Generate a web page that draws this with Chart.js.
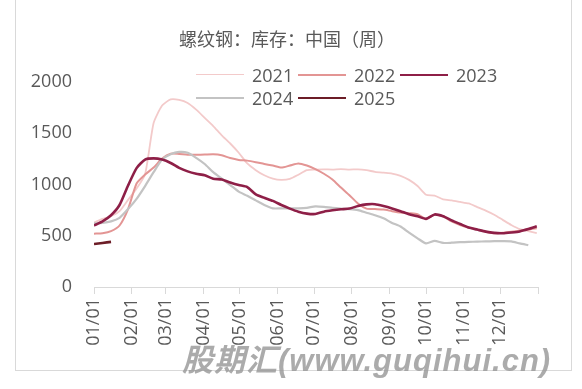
<!DOCTYPE html>
<html>
<head>
<meta charset="utf-8">
<script src="https://cdn.jsdelivr.net/npm/chart.js@4.4.1/dist/chart.umd.min.js"></script>
<style>
  body { margin: 0; background: #fff; }
  #wrap { position: relative; width: 582px; height: 389px; overflow: hidden; }
  #title { position: absolute; left: 179px; top: 27px; font: 18px "Noto Sans CJK SC"; line-height: 22px; color: #595959; white-space: nowrap; }
  #legend { position: absolute; left: 196px; top: 63px; width: 320px; display: flex; flex-wrap: wrap; }
  .item { width: 102px; height: 23px; display: flex; align-items: center; font: 18px "Open Sans"; color: #595959; }
  .swatch { width: 48px; margin-right: 8px; }
  #frame { position: absolute; left: 15px; top: 0; width: 557px; height: 371px; border: 1px solid #d9d9d9; border-top: none; box-sizing: border-box; }
  #mark { position: absolute; left: 182px; top: 335px; font: italic bold 31px "Liberation Sans", "Noto Sans CJK SC"; letter-spacing: 1px; color: rgba(150,150,150,0.8); white-space: nowrap; }
</style>
</head>
<body>
<div id="wrap">
  <div id="frame"></div>
  <canvas id="stockChart" width="582" height="389"></canvas>
  <div id="title">螺纹钢：库存：中国（周）</div>
  <div id="legend"></div>
  <div id="mark">股期汇(www.guqihui.cn)</div>
</div>
<script>
const monthLabels = ['01/01', '02/01', '03/01', '04/01', '05/01', '06/01', '07/01', '08/01', '09/01', '10/01', '11/01', '12/01'];
const monthStartDays = [0, 31, 59, 90, 120, 151, 181, 212, 243, 273, 304, 334];
const yearEndDay = 365;
const years = ['2021', '2022', '2023', '2024', '2025'];

// weekly rebar stock, 10k tonnes, week 1 .. week 53
const stock2021 = [630, 665, 690, 740, 850, 960, 1100, 1600, 1770, 1830, 1825, 1795, 1730, 1650, 1570, 1480, 1400, 1310, 1205, 1140,
  1090, 1057, 1045, 1055, 1095, 1140, 1146, 1148, 1146, 1150, 1146, 1148, 1140, 1124, 1115, 1107, 1085, 1045, 985, 900,
  892, 855, 845, 830, 815, 780, 745, 705, 655, 605, 565, 545, 525];
const stock2022 = [520, 525, 545, 600, 760, 1010, 1097, 1165, 1253, 1301, 1298, 1290, 1290, 1292, 1295, 1285, 1258, 1240, 1233, 1218,
  1200, 1185, 1165, 1185, 1205, 1185, 1150, 1105, 1049, 970, 895, 815, 765, 760, 755, 740, 727, 720, 710, 665,
  705, 690, 640, 605, 580, 560, 540, 525, 530, 540, 550, 560, 573];
const stock2023 = [600, 640, 700, 800, 990, 1160, 1243, 1255, 1243, 1210, 1162, 1128, 1105, 1090, 1057, 1049, 1020, 995, 975, 903,
  870, 840, 800, 765, 735, 716, 712, 735, 748, 758, 765, 790, 806, 808, 790, 767, 740, 710, 690, 665,
  708, 690, 650, 615, 580, 560, 540, 528, 525, 532, 542, 565, 592];
const stock2024 = [620, 625, 640, 675, 760, 860, 985, 1120, 1243, 1295, 1318, 1310, 1260, 1200, 1120, 1058, 995, 930, 890, 845,
  800, 767, 767, 767, 767, 772, 787, 782, 772, 765, 760, 750, 725, 700, 670, 625, 590, 530, 475, 425,
  450, 430, 432, 437, 440, 443, 445, 447, 447, 445, 425, 408];
const stock2025 = [420, 430, 440];

const seriesValues = [stock2021, stock2022, stock2023, stock2024, stock2025];
const lineColors = ['#f3caca', '#e39594', '#8e1f47', '#c3c3c3', '#6c1d27'];
const lineWidths = [1.8, 2, 2.6, 2.2, 2.6];
const drawOrder = [4, 3, 1, 2, 0];

function toPoints(values) {
  return values.map((v, i) => ({ x: i * 7, y: v }));
}

const datasets = years.map((year, k) => ({
  label: year,
  data: toPoints(seriesValues[k]),
  borderColor: lineColors[k],
  backgroundColor: lineColors[k],
  borderWidth: lineWidths[k],
  order: drawOrder[k],
  pointRadius: 0,
  tension: 0.2,
  fill: false
}));

const axisFont = { family: 'Open Sans', size: 18 };

const stockChart = new Chart(document.getElementById('stockChart').getContext('2d'), {
  type: 'line',
  data: { datasets: datasets },
  options: {
    responsive: false,
    animation: false,
    devicePixelRatio: 1,
    layout: { padding: { top: 82, right: 44, left: 0, bottom: 0 } },
    plugins: {
      legend: { display: false },
      tooltip: { enabled: false }
    },
    scales: {
      x: {
        type: 'linear',
        min: 0,
        max: yearEndDay,
        afterBuildTicks: scale => {
          scale.ticks = monthStartDays.concat([yearEndDay]).map(v => ({ value: v }));
        },
        afterFit: scale => { scale.height = 102; },
        ticks: {
          autoSkip: false,
          maxRotation: 90,
          minRotation: 90,
          padding: 4,
          color: '#595959',
          font: axisFont,
          callback: value => {
            const k = monthStartDays.indexOf(value);
            return k >= 0 ? monthLabels[k] : '';
          }
        },
        grid: { drawOnChartArea: false, drawTicks: true, tickLength: 7, color: '#d9d9d9' },
        border: { color: '#d9d9d9' }
      },
      y: {
        min: 0,
        max: 2000,
        afterFit: scale => { scale.width = 94; },
        ticks: { stepSize: 500, padding: 14, color: '#595959', font: axisFont, callback: value => String(value) },
        grid: { display: false },
        border: { display: false }
      }
    }
  }
});

// legend drawn as html so the rows wrap like the original
const legendBox = document.getElementById('legend');
stockChart.data.datasets.forEach(ds => {
  legendBox.innerHTML += `<div class="item"><span class="swatch" style="border-top:${ds.borderWidth}px solid ${ds.borderColor}"></span>${ds.label}</div>`;
});
</script>
</body>
</html>
